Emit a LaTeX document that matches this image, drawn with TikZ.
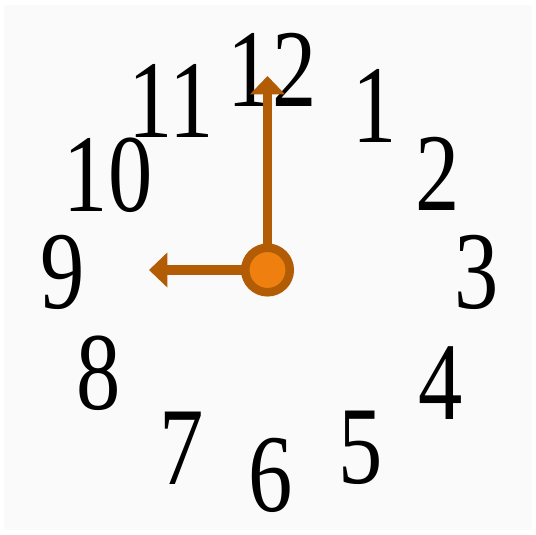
\documentclass[tikz,border=0pt]{standalone}
\usepackage{fontspec}
\setmainfont{Liberation Serif}
\usetikzlibrary{arrows.meta}
\definecolor{handc}{HTML}{B25C05}
\definecolor{dotc}{HTML}{EF800F}
\definecolor{bgc}{HTML}{FAFAFA}
\newcommand\clk[1]{\scalebox{0.8}[1]{#1}}
\tikzset{
  num/.style={inner sep=0pt, text=black, font=\fontsize{83pt}{83pt}\selectfont},
  handline/.style={draw=handc, line width=6.9pt, -{Triangle[width=25.5pt,length=13.8pt]}},
  hub/.style={circle, draw=handc, fill=dotc, line width=6.4pt, minimum size=33.4pt, inner sep=0pt}
}
\begin{document}
\begin{tikzpicture}[x=0.75pt,y=-0.75pt]
\fill[white] (0,0) rectangle (536,535);
\useasboundingbox (0,0) rectangle (536,535);
\fill[bgc] (4,5) rectangle (532,530);
\node[num] (n12) at (272,70) {\clk{12}};
\node[num] (n1) at (375,106) {\clk{1}};
\node[num] (n2) at (438,174) {\clk{2}};
\node[num] (n3) at (477,272) {\clk{3}};
\node[num] (n4) at (441,383) {\clk{4}};
\node[num] (n5) at (361,448) {\clk{5}};
\node[num] (n6) at (271,475) {\clk{6}};
\node[num] (n7) at (182,448) {\clk{7}};
\node[num] (n8) at (99,373) {\clk{8}};
\node[num] (n9) at (63,272) {\clk{9}};
\node[num] (n10) at (108,175) {\clk{10}};
\node[num] (n11) at (171,101) {\clk{11}};
\coordinate (o) at (267.5,270);
\coordinate (mtip) at (267.5,76);
\coordinate (htip) at (149,270);
\draw[handline] (o) -- (mtip);
\draw[handline] (o) -- (htip);
\node[hub] (hub) at (o) {};
\end{tikzpicture}
\end{document}
